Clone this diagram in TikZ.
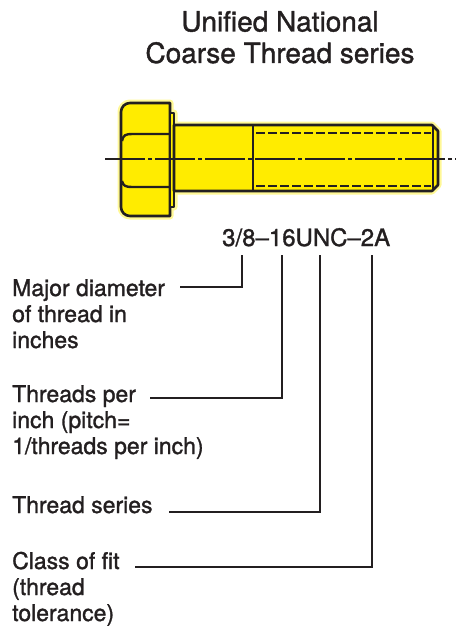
\documentclass[tikz,border=0pt]{standalone}
\usepackage{fontspec}
\setmainfont{TeX Gyre Heros}[FakeBold=1.3]
\usetikzlibrary{positioning}
\definecolor{boltyellow}{RGB}{255,236,0}
\definecolor{boltglow}{RGB}{255,248,150}
\definecolor{ink}{RGB}{35,31,32}
\tikzset{
  titletext/.style={align=center, inner sep=0pt, anchor=base, font=\fontsize{28}{31.5}\selectfont, text=ink},
  notetext/.style={align=left, inner sep=0pt, anchor=base west, font=\fontsize{23}{26}\selectfont, text=ink},
  codetext/.style={inner sep=0pt, anchor=base west, font=\fontsize{24}{26}\selectfont, text=ink},
  boltpart/.style={draw=ink, line width=2.6pt, line join=round, fill=boltyellow},
  boltglowline/.style={draw=boltglow, line width=7pt, line join=round},
  boltedge/.style={draw=ink, line width=2.4pt},
  minorline/.style={draw=ink, line width=2pt, dash pattern=on 9pt off 3pt},
  axisline/.style={draw=ink, line width=1.4pt, dash pattern=on 40pt off 3pt on 4pt off 3pt},
  leader/.style={draw=ink, line width=1.5pt}
}

\begin{document}
\begin{tikzpicture}[x=1pt, y=-1pt]
  \useasboundingbox (0,0) rectangle (456,626);

  % heading (multi-line nodes sit on the baseline of their last line)
  \node[titletext] (title) at (280,63) {Unified National\\Coarse Thread series};

  % bolt: soft halo first, then head, washer face and shank
  \draw[boltglowline] (170,103) [rounded corners=9] -- (121,103) -- (121,216) [sharp corners] -- (170,216)
    -- (170,207) -- (174,207) -- (174,191) -- (432,191) -- (438,185) -- (438,131) -- (432,125) -- (174,125)
    -- (174,113) -- (170,113) -- cycle;
  \draw[boltpart] (170,103) [rounded corners=9] -- (121,103) -- (121,216) [sharp corners] -- (170,216) -- cycle;
  \draw[boltedge] (122,141) .. controls (123,135) and (126,134) .. (132,134) -- (170,134);
  \draw[boltedge] (122,181) .. controls (123,186) and (126,187) .. (132,187) -- (170,187);
  \draw[boltpart] (170,113) rectangle (174,207);
  \draw[boltpart] (174,125) -- (432,125) -- (438,131) -- (438,185) -- (432,191) -- (174,191) -- cycle;
  \draw[boltedge] (253,125) -- (253,191);
  \draw[boltedge] (433,125) -- (433,191);
  \draw[minorline] (256,133) -- (431,133);
  \draw[minorline] (256,186) -- (431,186);
  \draw[axisline] (105,159) -- (456,159);

  % thread callout
  \node[codetext] (code) at (222,246) {3/8–16UNC–2A};

  \coordinate (diatop) at (242,255);
  \coordinate (tpitop) at (282,255);
  \coordinate (sertop) at (320,255);
  \coordinate (fittop) at (372,255);
  \coordinate (diaend) at (180,287);
  \coordinate (tpiend) at (150,398);
  \coordinate (serend) at (169,512);
  \coordinate (fitend) at (135,567);

  \node[notetext] (dia) at (12,348) {Major diameter\\of thread in\\inches};
  \node[notetext] (tpi) at (12,454) {Threads per\\inch (pitch=\\1/threads per inch)};
  \node[notetext] (ser) at (12,513) {Thread series};
  \node[notetext] (fit) at (12,621) {Class of fit\\(thread\\tolerance)};

  \foreach \n in {dia,tpi,ser,fit}
    \draw[leader] (\n top) |- (\n end);
\end{tikzpicture}
\end{document}
